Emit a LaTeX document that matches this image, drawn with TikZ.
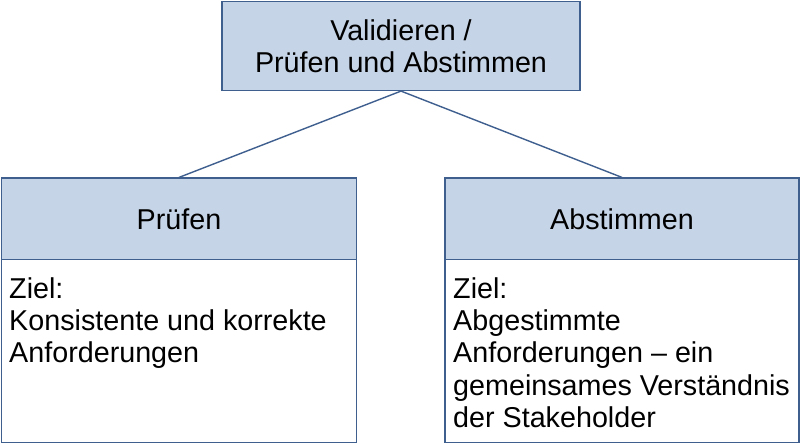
\documentclass[tikz,border=0pt]{standalone}
\usepackage{fontspec}
\setmainfont{Liberation Sans}
\usetikzlibrary{positioning}
\definecolor{boxfill}{HTML}{C6D4E7}
\definecolor{boxline}{HTML}{3F5F8F}
\begin{document}
\begin{tikzpicture}[x=0.03cm, y=-0.03cm,
    every node/.style={font=\fontsize{24.5}{27.6}\selectfont},
    head/.style={draw=boxline, line width=1pt, fill=boxfill, inner sep=0pt, align=center},
    body/.style={draw=boxline, line width=1pt, fill=white, inner sep=0pt},
    link/.style={draw=boxline, line width=1.2pt}]
    \useasboundingbox (0,0) rectangle (800,445);
    % top box
    \node (Top) [head, minimum width=358*0.03cm, minimum height=89*0.03cm] at (401,46) {Validieren /\\Prüfen und Abstimmen};
    % left column
    \node (Pruef) [head, minimum width=355*0.03cm, minimum height=82*0.03cm] at (179,219) {Prüfen};
    \node (PruefZiel) [body, minimum width=355*0.03cm, minimum height=183*0.03cm] at (179,351) {};
    \node [anchor=north west, align=left, inner sep=0pt] at (9,277) {Ziel:\\Konsistente und korrekte\\Anforderungen};
    % right column
    \node (Abst) [head, minimum width=354*0.03cm, minimum height=82*0.03cm] at (622,219) {Abstimmen};
    \node (AbstZiel) [body, minimum width=354*0.03cm, minimum height=183*0.03cm] at (622,351) {};
    \node [anchor=north west, align=left, inner sep=0pt] at (453,277) {Ziel:\\Abgestimmte\\Anforderungen – ein\\gemeinsames Verständnis\\der Stakeholder};
    % connectors
    \draw[link] (Top.south) -- (Pruef.north);
    \draw[link] (Top.south) -- (Abst.north);
\end{tikzpicture}
\end{document}
